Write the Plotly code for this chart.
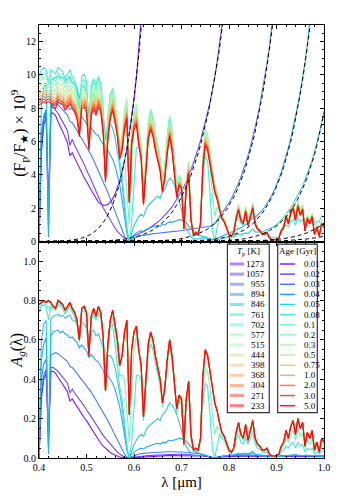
import numpy as np
import plotly.graph_objects as go
from plotly.subplots import make_subplots

# wavelength grid of the spectra [um]
WL = np.round(np.arange(0.400, 1.0001, 0.005), 3)

TP_LABELS = ["1273", "1057", "955", "894", "846", "761", "702", "577",
             "515", "444", "398", "368", "304", "271", "233"]
AGE_LABELS = ["0.01", "0.02", "0.03", "0.04", "0.05", "0.08", "0.1", "0.2",
              "0.3", "0.5", "0.75", "1.0", "2.0", "3.0", "5.0"]

# matplotlib "rainbow" colours, hot/young -> cold/old
COLORS = ["#7f00ff", "#5b39fd", "#376ff9", "#129ff1", "#12c7e6", "#37e6d8",
          "#5bf9c7", "#80ffb4", "#a4f99f", "#c8e688", "#edc76f", "#ff9f54",
          "#ff6f39", "#ff391d", "#ff0000"]

# geometric albedo spectra (bottom panel), one value every 0.005 um
ALB_1273 = [0.00, 0.30, 0.40, 0.43, 0.10, 0.44, 0.44, 0.43, 0.41, 0.395,
            0.375, 0.355, 0.335, 0.29, 0.30, 0.28, 0.26, 0.24, 0.225, 0.205,
            0.19, 0.17, 0.15, 0.13, 0.11, 0.09, 0.075, 0.06, 0.048, 0.037,
            0.028, 0.02, 0.014, 0.009, 0.005, 0.003, 0.001, 0.0, 0.0, 0.001,
            0.002, 0.003, 0.004, 0.005, 0.005, 0.006, 0.007, 0.008, 0.008, 0.009,
            0.010, 0.010, 0.011, 0.011, 0.012, 0.012, 0.012, 0.013, 0.013, 0.013,
            0.013, 0.013, 0.013, 0.012, 0.012, 0.012, 0.011, 0.011, 0.010, 0.010,
            0.009, 0.007, 0.004, 0.002, 0.001, 0.003, 0.005, 0.006, 0.007, 0.007,
            0.008, 0.008, 0.008, 0.008, 0.009, 0.009, 0.009, 0.009, 0.009, 0.009,
            0.009, 0.009, 0.009, 0.008, 0.008, 0.008, 0.008, 0.008, 0.008, 0.008,
            0.008, 0.008, 0.008, 0.008, 0.008, 0.008, 0.008, 0.008, 0.008, 0.008,
            0.007, 0.007, 0.007, 0.007, 0.007, 0.007, 0.007, 0.007, 0.007, 0.007,
            0.007]
ALB_1057 = [0.00, 0.32, 0.42, 0.45, 0.12, 0.46, 0.46, 0.45, 0.44, 0.425,
            0.41, 0.395, 0.38, 0.33, 0.35, 0.33, 0.315, 0.295, 0.28, 0.265,
            0.245, 0.23, 0.21, 0.19, 0.17, 0.15, 0.135, 0.115, 0.10, 0.085,
            0.07, 0.055, 0.042, 0.03, 0.02, 0.011, 0.005, 0.001, 0.0, 0.002,
            0.004, 0.006, 0.008, 0.009, 0.010, 0.011, 0.012, 0.013, 0.014, 0.015,
            0.016, 0.016, 0.017, 0.017, 0.018, 0.018, 0.018, 0.019, 0.019, 0.019,
            0.019, 0.019, 0.018, 0.018, 0.018, 0.017, 0.017, 0.016, 0.015, 0.014,
            0.012, 0.009, 0.005, 0.002, 0.001, 0.004, 0.007, 0.009, 0.010, 0.011,
            0.011, 0.012, 0.012, 0.012, 0.013, 0.013, 0.013, 0.013, 0.013, 0.013,
            0.013, 0.013, 0.012, 0.012, 0.012, 0.012, 0.012, 0.011, 0.011, 0.011,
            0.011, 0.011, 0.011, 0.011, 0.011, 0.011, 0.010, 0.010, 0.010, 0.010,
            0.010, 0.010, 0.010, 0.010, 0.010, 0.010, 0.010, 0.010, 0.010, 0.010,
            0.010]
ALB_955 = [0.00, 0.40, 0.48, 0.50, 0.05, 0.52, 0.53, 0.535, 0.53, 0.52,
           0.51, 0.50, 0.49, 0.465, 0.46, 0.445, 0.43, 0.41, 0.40, 0.385,
           0.37, 0.35, 0.335, 0.315, 0.295, 0.275, 0.255, 0.235, 0.21, 0.19,
           0.165, 0.14, 0.115, 0.09, 0.065, 0.04, 0.02, 0.005, 0.0, 0.006,
           0.012, 0.016, 0.02, 0.022, 0.024, 0.025, 0.026, 0.027, 0.028, 0.029,
           0.03, 0.03, 0.031, 0.031, 0.031, 0.032, 0.032, 0.032, 0.031, 0.031,
           0.03, 0.03, 0.029, 0.028, 0.027, 0.026, 0.025, 0.022, 0.02, 0.016,
           0.012, 0.008, 0.004, 0.001, 0.0, 0.003, 0.006, 0.008, 0.01, 0.011,
           0.012, 0.012, 0.013, 0.013, 0.014, 0.014, 0.015, 0.015, 0.015, 0.016,
           0.016, 0.015, 0.015, 0.014, 0.014, 0.013, 0.013, 0.012, 0.012, 0.012,
           0.012, 0.012, 0.012, 0.012, 0.011, 0.011, 0.011, 0.011, 0.011, 0.011,
           0.011, 0.011, 0.010, 0.010, 0.010, 0.010, 0.010, 0.010, 0.010, 0.010,
           0.010]
ALB_894 = [0.00, 0.50, 0.58, 0.61, 0.02, 0.62, 0.64, 0.645, 0.65, 0.635,
           0.645, 0.63, 0.625, 0.61, 0.615, 0.60, 0.585, 0.56, 0.575, 0.56,
           0.545, 0.51, 0.525, 0.51, 0.495, 0.49, 0.465, 0.45, 0.40, 0.42,
           0.40, 0.38, 0.35, 0.31, 0.26, 0.19, 0.11, 0.04, 0.0, 0.02,
           0.03, 0.04, 0.045, 0.05, 0.045, 0.055, 0.06, 0.065, 0.07, 0.072,
           0.075, 0.07, 0.08, 0.075, 0.085, 0.09, 0.088, 0.09, 0.095, 0.10,
           0.098, 0.09, 0.085, 0.07, 0.055, 0.04, 0.03, 0.025, 0.02, 0.018,
           0.015, 0.01, 0.005, 0.0, 0.0, 0.003, 0.006, 0.01, 0.012, 0.013,
           0.014, 0.015, 0.016, 0.018, 0.02, 0.018, 0.02, 0.022, 0.018, 0.024,
           0.026, 0.018, 0.016, 0.014, 0.013, 0.012, 0.011, 0.010, 0.009, 0.009,
           0.009, 0.010, 0.011, 0.012, 0.013, 0.014, 0.013, 0.014, 0.015, 0.014,
           0.013, 0.012, 0.013, 0.012, 0.011, 0.011, 0.011, 0.010, 0.010, 0.010,
           0.010]
ALB_846 = [0.00, 0.60, 0.68, 0.70, 0.05, 0.71, 0.72, 0.725, 0.73, 0.72,
           0.725, 0.71, 0.72, 0.725, 0.70, 0.70, 0.68, 0.63, 0.69, 0.68,
           0.66, 0.55, 0.64, 0.65, 0.62, 0.63, 0.60, 0.56, 0.45, 0.52,
           0.52, 0.50, 0.46, 0.40, 0.33, 0.25, 0.14, 0.05, 0.0, 0.04,
           0.07, 0.09, 0.11, 0.12, 0.11, 0.14, 0.16, 0.17, 0.18, 0.19,
           0.20, 0.19, 0.22, 0.23, 0.26, 0.28, 0.27, 0.25, 0.22, 0.18,
           0.14, 0.08, 0.06, 0.04, 0.02, 0.01, 0.01, 0.01, 0.012, 0.015,
           0.015, 0.01, 0.005, 0.0, 0.0, 0.004, 0.008, 0.01, 0.012, 0.012,
           0.012, 0.013, 0.015, 0.02, 0.025, 0.02, 0.022, 0.025, 0.02, 0.03,
           0.035, 0.02, 0.015, 0.012, 0.01, 0.01, 0.008, 0.006, 0.005, 0.005,
           0.005, 0.006, 0.008, 0.01, 0.012, 0.015, 0.014, 0.016, 0.018, 0.015,
           0.014, 0.012, 0.015, 0.014, 0.012, 0.01, 0.012, 0.01, 0.01, 0.01,
           0.01]
ALB_761 = [0.74, 0.77, 0.78, 0.77, 0.70, 0.77, 0.76, 0.75, 0.78, 0.77,
           0.76, 0.73, 0.75, 0.77, 0.74, 0.72, 0.68, 0.59, 0.74, 0.75,
           0.72, 0.52, 0.70, 0.73, 0.70, 0.74, 0.71, 0.60, 0.35, 0.56,
           0.66, 0.68, 0.58, 0.48, 0.36, 0.30, 0.18, 0.06, 0.0, 0.08,
           0.25, 0.42, 0.42, 0.40, 0.19, 0.38, 0.52, 0.58, 0.55, 0.48,
           0.43, 0.37, 0.26, 0.34, 0.47, 0.56, 0.49, 0.38, 0.23, 0.29,
           0.27, 0.06, 0.26, 0.33, 0.10, 0.03, 0.04, 0.03, 0.08, 0.30,
           0.38, 0.36, 0.22, 0.05, 0.0, 0.06, 0.12, 0.10, 0.09, 0.06,
           0.03, 0.02, 0.04, 0.09, 0.12, 0.08, 0.07, 0.11, 0.07, 0.10,
           0.13, 0.07, 0.05, 0.04, 0.03, 0.03, 0.03, 0.02, 0.01, 0.01,
           0.01, 0.01, 0.03, 0.04, 0.06, 0.05, 0.07, 0.08, 0.05, 0.08,
           0.06, 0.07, 0.03, 0.05, 0.04, 0.05, 0.02, 0.03, 0.02, 0.04,
           0.03]
ALB_702 = [0.76, 0.78, 0.79, 0.78, 0.76, 0.78, 0.76, 0.75, 0.79, 0.78,
           0.77, 0.74, 0.76, 0.78, 0.75, 0.73, 0.69, 0.59, 0.75, 0.76,
           0.73, 0.52, 0.71, 0.75, 0.71, 0.76, 0.73, 0.61, 0.34, 0.57,
           0.69, 0.72, 0.64, 0.55, 0.42, 0.42, 0.40, 0.25, 0.08, 0.35,
           0.55, 0.62, 0.52, 0.45, 0.20, 0.41, 0.56, 0.62, 0.58, 0.50,
           0.45, 0.39, 0.27, 0.35, 0.49, 0.58, 0.51, 0.39, 0.24, 0.31,
           0.29, 0.07, 0.28, 0.37, 0.11, 0.04, 0.05, 0.04, 0.09, 0.36,
           0.46, 0.44, 0.36, 0.22, 0.12, 0.16, 0.15, 0.11, 0.10, 0.07,
           0.04, 0.03, 0.05, 0.12, 0.16, 0.11, 0.09, 0.15, 0.08, 0.13,
           0.17, 0.09, 0.06, 0.05, 0.04, 0.04, 0.04, 0.02, 0.01, 0.01,
           0.01, 0.02, 0.05, 0.06, 0.11, 0.08, 0.12, 0.14, 0.09, 0.15,
           0.11, 0.13, 0.05, 0.09, 0.07, 0.10, 0.03, 0.06, 0.02, 0.07,
           0.06]
# cold planets (577 K ... 233 K) share nearly the same albedo spectrum
ALB_COLD = [0.78, 0.79, 0.80, 0.79, 0.80, 0.79, 0.77, 0.76, 0.80, 0.79,
            0.78, 0.75, 0.77, 0.79, 0.76, 0.74, 0.70, 0.60, 0.76, 0.77,
            0.74, 0.52, 0.72, 0.76, 0.72, 0.77, 0.74, 0.62, 0.34, 0.58,
            0.70, 0.75, 0.68, 0.60, 0.47, 0.52, 0.64, 0.70, 0.22, 0.55,
            0.64, 0.67, 0.55, 0.47, 0.21, 0.42, 0.58, 0.64, 0.60, 0.52,
            0.46, 0.40, 0.28, 0.36, 0.50, 0.60, 0.52, 0.40, 0.25, 0.32,
            0.30, 0.07, 0.30, 0.39, 0.12, 0.04, 0.05, 0.04, 0.10, 0.42,
            0.55, 0.52, 0.45, 0.36, 0.28, 0.24, 0.18, 0.13, 0.11, 0.08,
            0.04, 0.03, 0.05, 0.13, 0.18, 0.12, 0.10, 0.17, 0.09, 0.14,
            0.19, 0.10, 0.07, 0.06, 0.04, 0.04, 0.05, 0.02, 0.01, 0.01,
            0.01, 0.02, 0.06, 0.08, 0.14, 0.10, 0.16, 0.19, 0.12, 0.20,
            0.15, 0.18, 0.06, 0.13, 0.10, 0.14, 0.04, 0.08, 0.03, 0.10,
            0.08]

# planet/star contrast per unit albedo (x 1e9)
CONTRAST_SCALE = [17.5, 17.5, 15.5, 13.0, 13.6, 13.4, 12.8, 12.3,
                  11.9, 11.6, 11.3, 11.1, 10.9, 10.7, 10.5]

# thermal emission contrast (x 1e9, dashed curves), from 0.400 um on
THERM_1273 = [0, 0, 0.002, 0.004, 0.007, 0.01, 0.013, 0.016, 0.02, 0.026,
              0.033, 0.042, 0.054, 0.068, 0.085, 0.106, 0.132, 0.164, 0.203, 0.249,
              0.305, 0.372, 0.45, 0.545, 0.657, 0.79, 0.945, 1.13, 1.34, 1.59,
              1.88, 2.21, 2.60, 3.04, 3.55, 4.14, 4.81, 5.57, 6.44, 7.42,
              8.54, 9.80, 11.2, 12.8, 14.6, 16.6]
THERM_1057 = [0, 0, 0, 0, 0, 0, 0, 0, 0.001, 0.001,
              0.001, 0.002, 0.002, 0.003, 0.003, 0.004, 0.005, 0.006, 0.007, 0.008,
              0.01, 0.012, 0.014, 0.017, 0.02, 0.024, 0.029, 0.034, 0.04, 0.047,
              0.054, 0.064, 0.075, 0.088, 0.103, 0.12, 0.14, 0.162, 0.187, 0.215,
              0.247, 0.284, 0.325, 0.372, 0.424, 0.482, 0.547, 0.62, 0.70, 0.79,
              0.89, 1.0, 1.13, 1.27, 1.41, 1.58, 1.76, 1.96, 2.18, 2.42,
              2.68, 2.96, 3.27, 3.61, 3.98, 4.38, 4.82, 5.28, 5.79, 6.34,
              6.94, 7.58, 8.27, 9.01, 9.82, 10.7, 11.6, 12.6, 13.6, 14.7,
              16.0]
THERM_955 = [0, 0, 0, 0, 0, 0, 0, 0, 0, 0,
             0, 0, 0, 0, 0, 0, 0, 0, 0, 0,
             0, 0, 0, 0, 0, 0, 0, 0.001, 0.001, 0.001,
             0.001, 0.001, 0.002, 0.002, 0.002, 0.003, 0.003, 0.004, 0.004, 0.005,
             0.006, 0.0075, 0.009, 0.011, 0.013, 0.016, 0.019, 0.023, 0.027, 0.032,
             0.038, 0.045, 0.052, 0.062, 0.072, 0.084, 0.097, 0.113, 0.131, 0.152,
             0.176, 0.203, 0.233, 0.267, 0.306, 0.35, 0.399, 0.455, 0.517, 0.587,
             0.667, 0.754, 0.852, 0.96, 1.08, 1.22, 1.37, 1.54, 1.72, 1.92,
             2.14, 2.38, 2.65, 2.94, 3.28, 3.64, 4.03, 4.45, 4.92, 5.43,
             5.98, 6.59, 7.25, 7.97, 8.75, 9.6, 10.5, 11.5, 12.6, 13.7,
             14.95, 16.3]
THERM_894 = [0, 0, 0, 0, 0, 0, 0, 0, 0, 0,
             0, 0, 0, 0, 0, 0, 0, 0, 0, 0,
             0, 0, 0, 0, 0, 0, 0, 0, 0, 0,
             0, 0, 0, 0, 0, 0, 0, 0, 0, 0,
             0, 0, 0.001, 0.001, 0.001, 0.001, 0.001, 0.002, 0.002, 0.002,
             0.002, 0.003, 0.003, 0.004, 0.005, 0.006, 0.007, 0.009, 0.01, 0.012,
             0.015, 0.018, 0.021, 0.025, 0.03, 0.035, 0.041, 0.048, 0.057, 0.065,
             0.075, 0.087, 0.10, 0.117, 0.135, 0.156, 0.179, 0.206, 0.236, 0.27,
             0.308, 0.351, 0.40, 0.455, 0.518, 0.587, 0.665, 0.751, 0.848, 0.955,
             1.075, 1.21, 1.36, 1.52, 1.70, 1.9, 2.13, 2.37, 2.64, 2.94,
             3.27, 3.63, 4.02, 4.45, 4.92, 5.44, 6.01, 6.63, 7.31, 8.04,
             8.84, 9.7, 10.6, 11.7, 12.8, 14.0, 15.3, 16.7, 18.2, 19.6,
             21.1]
THERM_846 = [0, 0, 0, 0, 0, 0, 0, 0, 0, 0,
             0, 0, 0, 0, 0, 0, 0, 0, 0, 0,
             0, 0, 0, 0, 0, 0, 0, 0, 0, 0,
             0, 0, 0, 0, 0, 0, 0, 0, 0, 0,
             0, 0, 0, 0, 0, 0, 0, 0, 0, 0,
             0, 0, 0, 0, 0, 0, 0, 0.001, 0.001, 0.001,
             0.002, 0.003, 0.003, 0.004, 0.005, 0.006, 0.007, 0.008, 0.01, 0.012,
             0.014, 0.016, 0.019, 0.022, 0.026, 0.03, 0.035, 0.041, 0.047, 0.056,
             0.067, 0.077, 0.088, 0.10, 0.119, 0.135, 0.153, 0.178, 0.206, 0.236,
             0.27, 0.307, 0.35, 0.40, 0.45, 0.51, 0.577, 0.65, 0.736, 0.83,
             0.933, 1.05, 1.18, 1.32, 1.47, 1.65, 1.84, 2.05, 2.29, 2.55,
             2.83, 3.15, 3.49, 3.87, 4.28, 4.73, 5.22, 5.77, 6.36, 7.0,
             7.7]
THERM_761 = [0, 0, 0, 0, 0, 0, 0, 0, 0, 0,
             0, 0, 0, 0, 0, 0, 0, 0, 0, 0,
             0, 0, 0, 0, 0, 0, 0, 0, 0, 0,
             0, 0, 0, 0, 0, 0, 0, 0, 0, 0,
             0, 0, 0, 0, 0, 0, 0, 0, 0, 0,
             0, 0, 0, 0, 0, 0, 0, 0, 0, 0,
             0, 0, 0, 0, 0, 0, 0, 0, 0, 0,
             0.001, 0.001, 0.002, 0.002, 0.002, 0.003, 0.003, 0.004, 0.005, 0.006,
             0.007, 0.009, 0.01, 0.012, 0.014, 0.016, 0.018, 0.021, 0.024, 0.028,
             0.032, 0.037, 0.043, 0.049, 0.056, 0.064, 0.072, 0.082, 0.093, 0.106,
             0.12, 0.134, 0.151, 0.17, 0.19, 0.214, 0.24, 0.27, 0.31, 0.34,
             0.38, 0.42, 0.48, 0.53, 0.59, 0.66, 0.73, 0.81, 0.9, 1.0,
             1.1]
THERM_702 = [0, 0, 0, 0, 0, 0, 0, 0, 0, 0,
             0, 0, 0, 0, 0, 0, 0, 0, 0, 0,
             0, 0, 0, 0, 0, 0, 0, 0, 0, 0,
             0, 0, 0, 0, 0, 0, 0, 0, 0, 0,
             0, 0, 0, 0, 0, 0, 0, 0, 0, 0,
             0, 0, 0, 0, 0, 0, 0, 0, 0, 0,
             0, 0, 0, 0, 0, 0, 0, 0, 0, 0,
             0, 0, 0, 0, 0, 0, 0, 0, 0, 0,
             0, 0, 0, 0, 0, 0, 0, 0, 0, 0,
             0.005, 0.006, 0.008, 0.01, 0.012, 0.014, 0.016, 0.019, 0.022, 0.026,
             0.03, 0.035, 0.04, 0.046, 0.053, 0.06, 0.068, 0.077, 0.087, 0.098,
             0.11, 0.123, 0.138, 0.154, 0.17, 0.19, 0.21, 0.23, 0.255, 0.28,
             0.31]

ALBEDOS = [ALB_1273, ALB_1057, ALB_955, ALB_894, ALB_846, ALB_761, ALB_702] + [ALB_COLD] * 8
THERMALS = [THERM_1273, THERM_1057, THERM_955, THERM_894, THERM_846, THERM_761, THERM_702] + [None] * 8

SERIF = "Liberation Serif"

fig = make_subplots(rows=2, cols=1, shared_xaxes=True, vertical_spacing=0)

for i, tp in enumerate(TP_LABELS):
    alb = np.array(ALBEDOS[i], dtype=float)
    therm = THERMALS[i]
    if therm is None:
        x_top, y_top = WL, CONTRAST_SCALE[i] * alb
    else:
        n = len(therm)
        x_top, y_top = WL[:n], CONTRAST_SCALE[i] * alb[:n] + np.array(therm, dtype=float)
    line = dict(color=COLORS[i], width=1.1)
    fig.add_trace(go.Scatter(x=x_top, y=y_top, mode="lines", line=line, opacity=0.9,
                             name=tp + " K", showlegend=False), row=1, col=1)
    fig.add_trace(go.Scatter(x=WL, y=alb, mode="lines", line=line, opacity=0.9,
                             name=tp + " K", showlegend=False), row=2, col=1)

# thermal contribution only, dashed black
for therm in THERMALS:
    if therm is None:
        continue
    fig.add_trace(go.Scatter(x=WL[:len(therm)], y=therm, mode="lines",
                             line=dict(color="black", width=1, dash="4px,3px"),
                             showlegend=False), row=1, col=1)

# two hand-made legend boxes inside the bottom panel (paper coords)
shapes = []
annotations = []
box_y0, box_y1 = 0.105, 0.494
shapes.append(dict(type="rect", xref="paper", yref="paper", x0=0.661, x1=0.808,
                   y0=box_y0, y1=box_y1, line=dict(color="#333", width=1.2),
                   fillcolor="white", layer="above"))
shapes.append(dict(type="rect", xref="paper", yref="paper", x0=0.8375, x1=0.9765,
                   y0=box_y0, y1=box_y1, line=dict(color="#333", width=1.2),
                   fillcolor="white", layer="above"))
annotations.append(dict(text="<i>T</i><sub>p</sub> [K]", xref="paper", yref="paper",
                        x=0.735, y=0.477, showarrow=False, xanchor="center",
                        yanchor="middle", font=dict(size=9)))
annotations.append(dict(text="Age [Gyr]", xref="paper", yref="paper",
                        x=0.907, y=0.477, showarrow=False, xanchor="center",
                        yanchor="middle", font=dict(size=9)))
for i in range(len(TP_LABELS)):
    yy = 0.448 - 0.02337 * i
    shapes.append(dict(type="line", xref="paper", yref="paper", x0=0.670, x1=0.719,
                       y0=yy, y1=yy, line=dict(color=COLORS[i], width=3),
                       opacity=0.5, layer="above"))
    shapes.append(dict(type="line", xref="paper", yref="paper", x0=0.8456, x1=0.898,
                       y0=yy, y1=yy, line=dict(color=COLORS[i], width=1.5),
                       opacity=0.9, layer="above"))
    annotations.append(dict(text=TP_LABELS[i], xref="paper", yref="paper", x=0.800, y=yy,
                            showarrow=False, xanchor="right", yanchor="middle",
                            font=dict(size=9)))
    annotations.append(dict(text=AGE_LABELS[i], xref="paper", yref="paper", x=0.9228, y=yy,
                            showarrow=False, xanchor="left", yanchor="middle",
                            font=dict(size=9)))

axis_common = dict(showline=True, linecolor="black", linewidth=1, mirror="ticks",
                   ticks="inside", ticklen=4, tickcolor="black", showgrid=False,
                   zeroline=False, automargin=False)

fig.update_xaxes(range=[0.4, 1.0], dtick=0.1, tickformat=".1f",
                 minor=dict(dtick=0.02, ticks="inside", ticklen=2, tickcolor="black"),
                 **axis_common)
fig.update_xaxes(title=dict(text="λ [μm]", font=dict(size=15), standoff=4), row=2, col=1)
fig.update_yaxes(range=[0, 13], tickvals=[0, 2, 4, 6, 8, 10, 12],
                 minor=dict(dtick=0.5, ticks="inside", ticklen=2, tickcolor="black"),
                 title=dict(text="(F<sub>p</sub>/F<sub>★</sub>) × 10<sup>9</sup>",
                            font=dict(size=16), standoff=6),
                 row=1, col=1, **axis_common)
fig.update_yaxes(range=[0, 1.1], tickvals=[0, 0.2, 0.4, 0.6, 0.8, 1.0], tickformat=".1f",
                 minor=dict(dtick=0.05, ticks="inside", ticklen=2, tickcolor="black"),
                 title=dict(text="<i>A<sub>g</sub></i>(λ)", font=dict(size=16), standoff=4),
                 row=2, col=1, **axis_common)

# the page body adds an 8 px offset, so the figure is 8 px smaller each way
fig.update_layout(
    width=353, height=491,
    margin=dict(l=31, r=37, t=17, b=41),
    plot_bgcolor="white", paper_bgcolor="white",
    font=dict(family=SERIF, size=10, color="black"),
    shapes=shapes, annotations=annotations,
    showlegend=False,
)

fig.write_html("out.html")
